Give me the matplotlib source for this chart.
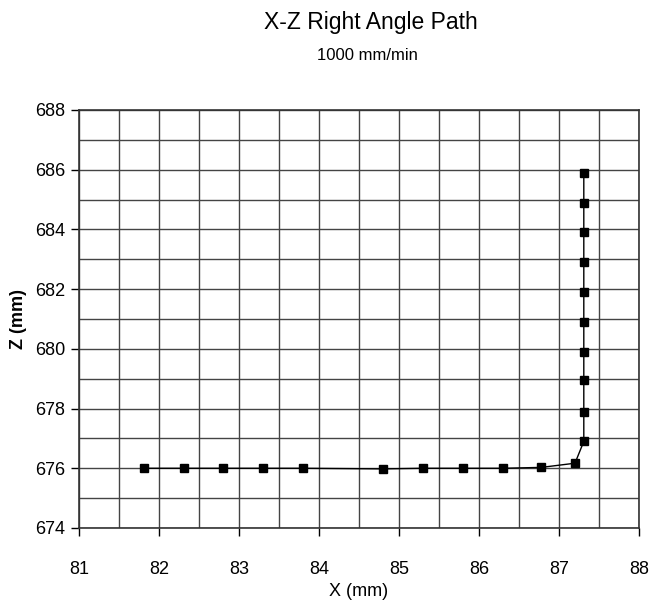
import numpy as np
import matplotlib.pyplot as plt
from matplotlib.ticker import MultipleLocator

plt.rcParams['font.family'] = ['Liberation Sans', 'DejaVu Sans']

# path points
x_mm = [81.81, 82.31, 82.8, 83.3, 83.8, 84.8, 85.3, 85.8, 86.3, 86.78, 87.2,
        87.31, 87.31, 87.31, 87.31, 87.31, 87.31, 87.31, 87.31, 87.31, 87.31]
z_mm = [676.0, 676.0, 676.0, 676.0, 676.0, 675.98, 676.0, 676.0, 676.0, 676.03, 676.17,
        676.9, 677.9, 678.95, 679.9, 680.9, 681.9, 682.9, 683.9, 684.9, 685.9]

fig = plt.figure(figsize=(6.62, 6.08), dpi=100)
ax = fig.add_axes([79/662, 1-528/608, 560/662, 418/608])

ax.plot(x_mm, z_mm, color='black', lw=1.0, marker='s', ms=6, mfc='black', mec='black')

ax.set_xlim(81, 88)
ax.set_ylim(674, 688)
ax.xaxis.set_major_locator(MultipleLocator(1))
ax.xaxis.set_minor_locator(MultipleLocator(0.5))
ax.yaxis.set_major_locator(MultipleLocator(2))
ax.yaxis.set_minor_locator(MultipleLocator(1))
ax.grid(which='both', color='#444444', lw=1.0)
ax.tick_params(axis='y', which='major', direction='out', length=6, width=1, labelsize=13, pad=4)
ax.tick_params(axis='x', which='major', direction='out', length=6, width=1, labelsize=13, pad=18)
ax.tick_params(which='minor', length=0)
for s in ax.spines.values():
    s.set_color('#333333')
    s.set_linewidth(1.2)

ax.set_xlabel('X (mm)', fontsize=13, labelpad=3)
ax.set_ylabel('Z (mm)', fontsize=13, fontweight='bold', labelpad=6)

fig.text(0.56, 1-23/608, 'X-Z Right Angle Path', ha='center', va='center', fontsize=16.5)
fig.text(0.555, 1-56/608, '1000 mm/min', ha='center', va='center', fontsize=12)

fig.savefig('out.png', dpi=100)
